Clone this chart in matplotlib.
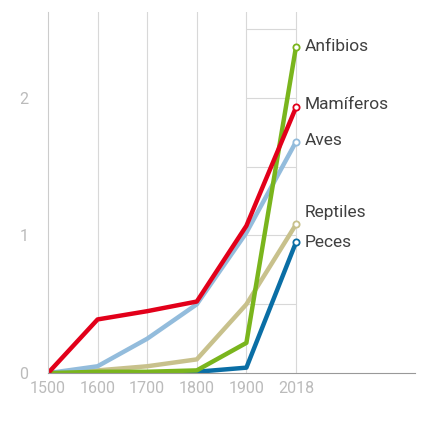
import matplotlib.pyplot as plt

years = ["1500", "1600", "1700", "1800", "1900", "2018"]
series = {
    "Anfibios":  [0, 0.01, 0.01, 0.02, 0.22, 2.37],
    "Mamíferos": [0, 0.39, 0.45, 0.52, 1.07, 1.93],
    "Aves":      [0, 0.05, 0.25, 0.50, 1.02, 1.68],
    "Reptiles":  [0, 0.02, 0.05, 0.10, 0.50, 1.08],
    "Peces":     [0, 0.00, 0.00, 0.01, 0.04, 0.95],
}
colors = {
    "Anfibios": "#7ab51d",
    "Mamíferos": "#e2001a",
    "Aves": "#93bcdc",
    "Reptiles": "#c8c18c",
    "Peces": "#0a6ea5",
}
label_y = {"Anfibios": 2.37, "Mamíferos": 1.95, "Aves": 1.69, "Reptiles": 1.17, "Peces": 0.95}

plt.rcParams['font.family'] = ['Roboto', 'DejaVu Sans']
fig = plt.figure(figsize=(4.36, 4.25), dpi=100)
ax = fig.add_axes([0.11, 0.122, 0.842, 0.849])
x = list(range(len(years)))

for i in x[1:]:
    ax.axvline(i, color="#d8d8d8", lw=0.8, zorder=0)
for yv in [0.5, 1, 1.5, 2, 2.5]:
    ax.hlines(yv, 4, 5, color="#d8d8d8", lw=0.8, zorder=0)

order = ["Reptiles", "Aves", "Peces", "Anfibios", "Mamíferos"]
for name in order:
    v = series[name]
    ax.plot(x, v, color=colors[name], lw=3.2, solid_capstyle="round", zorder=2)
    ax.plot(x[-1], v[-1], "o", ms=4.5, mfc="white", mec=colors[name], mew=1.3, zorder=3)
    ax.text(5.18, label_y[name], name, fontsize=12.5, color="#404040", va="center")

ax.set_xlim(0, 7.4)
ax.set_ylim(0, 2.62)
ax.set_xticks(x)
ax.set_xticklabels(years)
ax.set_yticks([0, 1, 2])
for s in ["top", "right"]:
    ax.spines[s].set_visible(False)
ax.spines["left"].set_color("#cccccc")
ax.spines["bottom"].set_color("#999999")
ax.tick_params(colors="#bbbbbb", labelsize=11.5, length=0, pad=6)
ax.tick_params(axis="y", pad=14)
fig.savefig("out.png", dpi=100)
